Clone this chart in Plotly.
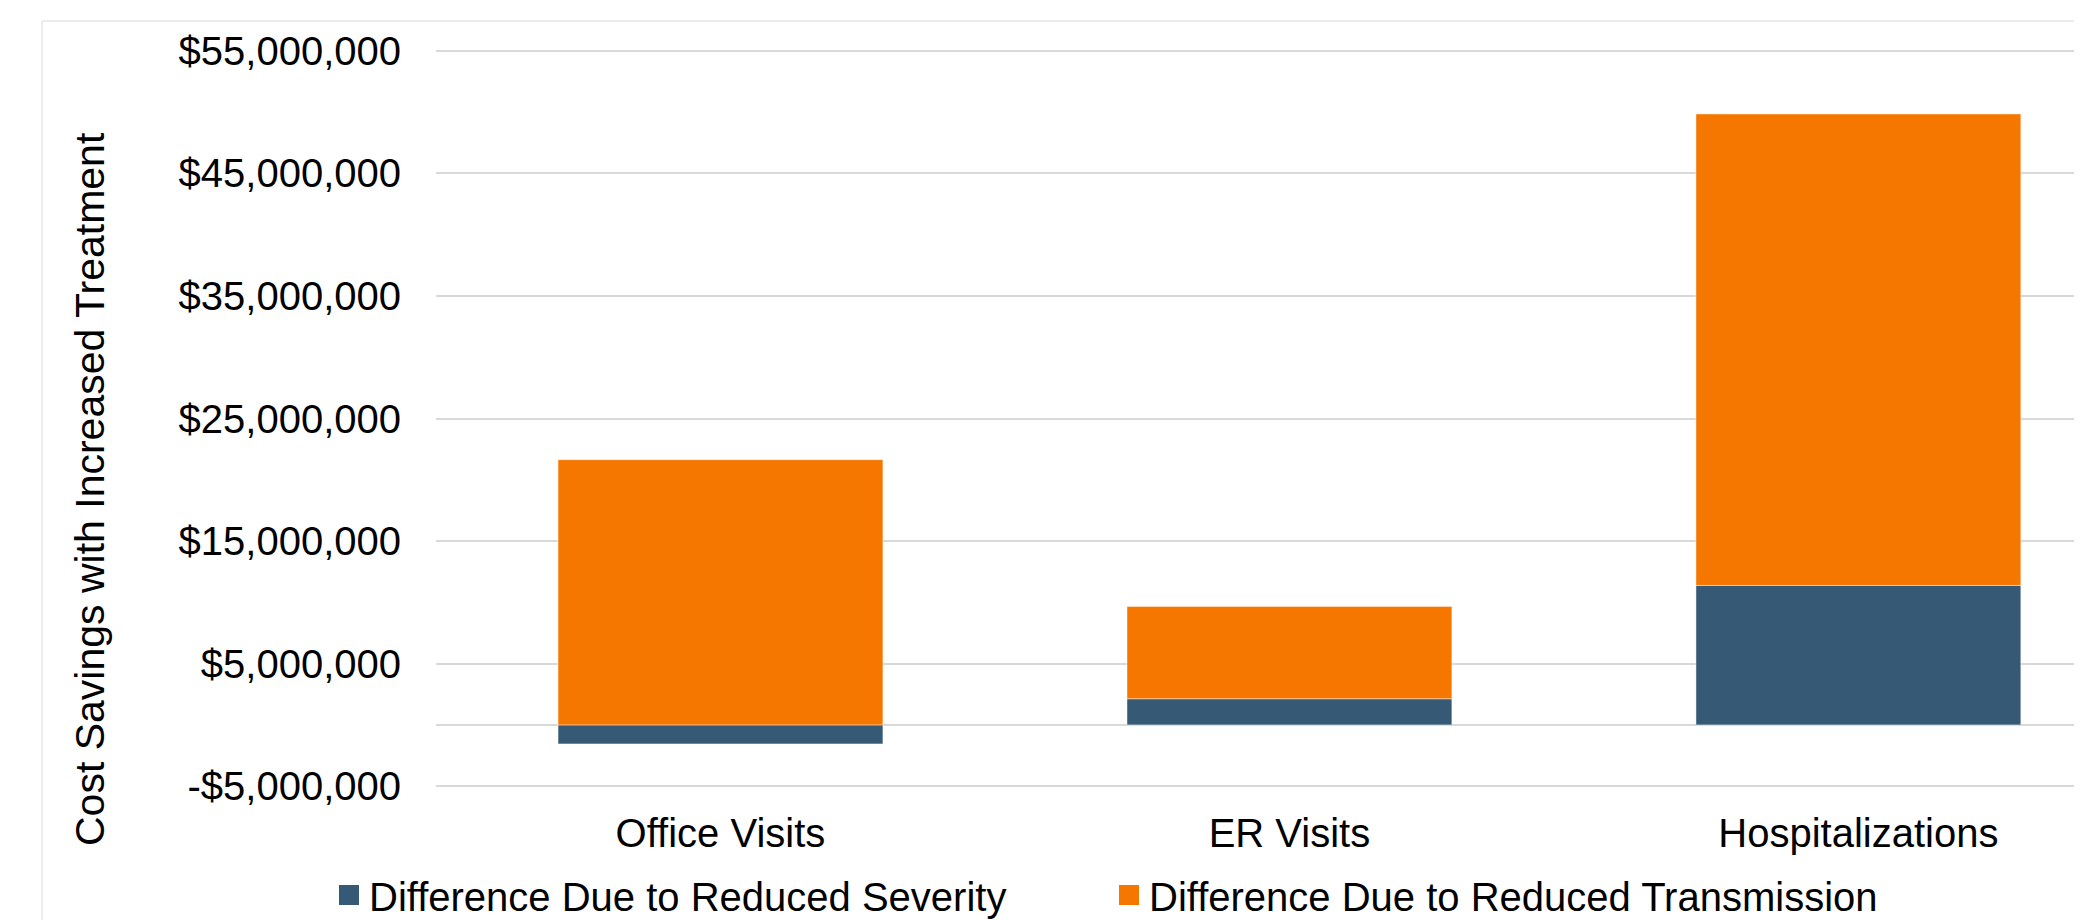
import plotly.graph_objects as go

# ---- data ----
categories = ["Office Visits", "ER Visits", "Hospitalizations"]
severity = [-1.55e6, 2.13e6, 11.38e6]        # Difference Due to Reduced Severity
transmission = [21.64e6, 7.54e6, 38.47e6]    # Difference Due to Reduced Transmission
series_names = ["Difference Due to Reduced Severity", "Difference Due to Reduced Transmission"]
tick_vals = [-5e6, 5e6, 15e6, 25e6, 35e6, 45e6, 55e6]
tick_text = ["-$5,000,000", "$5,000,000", "$15,000,000", "$25,000,000",
             "$35,000,000", "$45,000,000", "$55,000,000"]
y_title = "Cost Savings with Increased Treatment"

BLUE = "#365A75"
ORANGE = "#F57700"
GRID = "#d9d9d9"
FONT = "Liberation Sans, Arial, sans-serif"

# page has an 8px body margin; figure is sized so it ends at the window edge
OFF = 8
W, H = 2082 - OFF, 920 - OFF
L, R, T, B = 436 - OFF, 0, 49 - OFF, 132

fig = go.Figure()
for name, vals, col in [(series_names[0], severity, BLUE), (series_names[1], transmission, ORANGE)]:
    fig.add_trace(go.Bar(
        x=categories, y=vals, name=name, legendgroup=name, showlegend=False,
        marker=dict(color=col, line=dict(color="rgba(255,255,255,0.45)", width=1)),
    ))
    # legend proxy (larger square swatch)
    fig.add_trace(go.Scatter(
        x=[None], y=[None], name=name, legendgroup=name, mode="markers",
        marker=dict(symbol="square", size=16, color=col, line=dict(color=col, width=4)),
    ))

plot_h = H - T - B
plot_w = W - L - R

fig.update_layout(
    width=W, height=H,
    margin=dict(l=L, r=R, t=T, b=B, pad=0, autoexpand=False),
    paper_bgcolor="white", plot_bgcolor="white",
    barmode="relative", bargap=0.429,
    font=dict(family=FONT, size=40, color="#000000"),
    showlegend=True,
    legend=dict(
        orientation="h", xref="container", yref="container",
        x=(329 - OFF) / W, xanchor="left",
        y=(920 - 895) / H, yanchor="middle",
        font=dict(size=40, color="#000000"), entrywidth=735, entrywidthmode="pixels",
        bgcolor="rgba(0,0,0,0)", itemwidth=30, tracegroupgap=0,
    ),
    xaxis=dict(
        type="category", range=[-0.5, 2.393], showgrid=False, showline=False,
        ticks="", ticklabelstandoff=18, tickfont=dict(size=40, color="#000000"),
        automargin=False,
    ),
    yaxis=dict(
        range=[-5.15e6, 55.15e6], tickvals=tick_vals, ticktext=tick_text,
        showgrid=True, gridcolor=GRID, gridwidth=2,
        zeroline=True, zerolinecolor=GRID, zerolinewidth=2,
        showline=False, ticks="", ticklabelstandoff=34,
        tickfont=dict(size=40, color="#000000"), automargin=False,
    ),
    annotations=[dict(
        text=y_title, textangle=-90, xref="paper", yref="paper",
        x=(90 - 436) / plot_w, y=(788 - 489) / plot_h,
        xanchor="center", yanchor="middle", showarrow=False,
        font=dict(size=41, color="#000000", family=FONT),
    )],
    shapes=[
        dict(type="line", xref="paper", yref="paper", x0=(42 - 436) / plot_w, x1=1.05,
             y0=(788 - 21) / plot_h, y1=(788 - 21) / plot_h,
             line=dict(color="#e6e6e6", width=1.5)),
        dict(type="line", xref="paper", yref="paper", x0=(42 - 436) / plot_w, x1=(42 - 436) / plot_w,
             y0=(788 - 21) / plot_h, y1=-0.3,
             line=dict(color="#e6e6e6", width=1.5)),
    ],
)

fig.write_html("out.html")
